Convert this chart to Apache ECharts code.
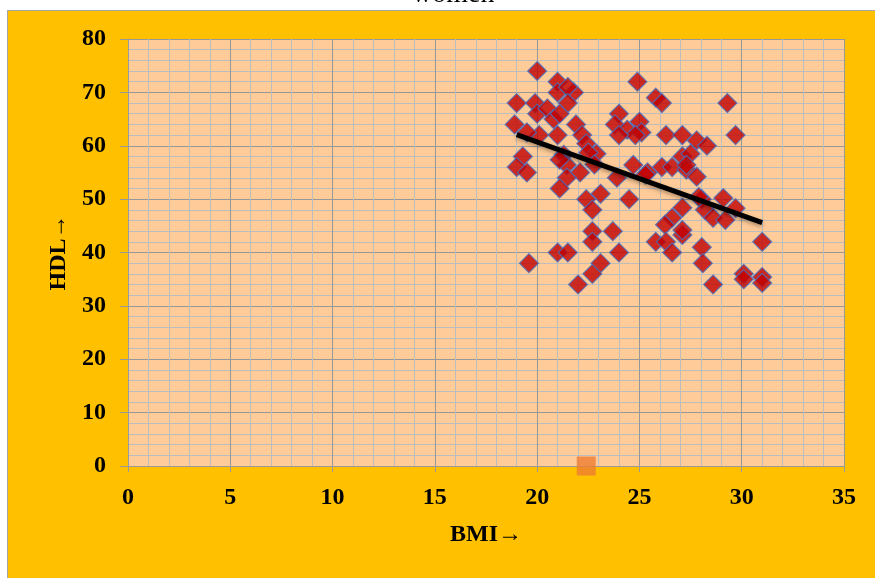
<!DOCTYPE html>
<html>
<head>
<meta charset="utf-8">
<script src="https://cdn.jsdelivr.net/npm/echarts@6/dist/echarts.min.js"></script>
<style>
  html, body { margin: 0; padding: 0; background: #ffffff; }
  #frame {
    position: absolute; left: 7px; top: 10px; width: 875px; height: 575px;
    background: #FFC000; border: 1px solid #A6A6A6; box-sizing: border-box;
  }
  #chart { position: absolute; left: 0; top: 0; width: 875px; height: 578px; }
</style>
</head>
<body>
<div id="frame"></div>
<div id="chart"></div>
<script>
// BMI / HDL readings for the women's group
const bmi = [
  20.0, 21.0, 24.9, 21.0, 21.8, 21.5, 19.0, 19.9, 21.5, 25.8,
  26.1, 29.3, 20.0, 20.5, 20.8, 21.1, 24.0, 18.9, 21.9, 23.8,
  24.4, 25.0, 25.1, 24.8, 24.0, 20.1, 21.0, 22.2, 19.5, 26.3,
  27.1, 27.8, 29.7, 28.3, 22.4, 22.9, 22.5, 19.3, 21.3, 27.1,
  27.5, 19.0, 19.5, 21.45, 22.1, 22.8, 24.7, 25.4, 26.1, 26.6,
  27.3, 27.8, 23.9, 21.45, 21.1, 22.4, 23.1, 22.7, 24.5, 22.7,
  22.7, 23.7, 24.0, 21.0, 21.5, 19.6, 23.1, 22.7, 22.0, 27.1,
  26.6, 26.25, 27.1, 27.1, 25.8, 26.3, 26.6, 28.05, 28.2, 28.6,
  29.1, 29.2, 29.7, 28.05, 28.1, 28.6, 31.0, 30.1, 30.1, 31.0,
  31.0, 25.3, 27.9, 27.3, 21.1
];
const hdl = [
  74, 72, 72, 70, 70, 71, 68, 68, 68, 69,
  68, 68, 66, 67, 65, 66, 66, 64, 64, 64,
  63, 64.5, 62.5, 62, 62, 62, 62, 62, 62.5, 62,
  62, 61, 62, 60, 60.4, 58.5, 58.7, 58, 58.3, 58,
  58.5, 56, 55, 56.4, 55, 56.5, 56.4, 55, 56, 56,
  55.5, 54.2, 54, 54, 52, 50, 51, 48, 50, 44,
  42, 44, 40, 40, 40, 38, 38, 36, 34, 48.4,
  46.5, 45.2, 43.3, 44.2, 42, 42, 40, 50, 48, 46.5,
  50.2, 46.1, 48.3, 41, 38, 34, 42, 36, 35, 35.4,
  34.3, 54.6, 50.4, 56.4, 57.4
];

// Linear trend line end points
const trendBmi = [19, 31];
const trendHdl = [62.1, 45.6];

// Second series: single point on the baseline
const extraBmi = [22.4];
const extraHdl = [0];

// Axis ranges and tick steps
const xTicks = { min: 0, max: 35, step: 5 };
const yTicks = { min: 0, max: 80, step: 10 };

const zip = (xs, ys) => xs.map((x, i) => [x, ys[i]]);

const serif = '"Liberation Serif", "Times New Roman", serif';
const labelStyle = { color: '#000', fontFamily: serif, fontWeight: 'bold', fontSize: 24 };

const chart = echarts.init(document.getElementById('chart'), null, { renderer: 'canvas' });
chart.setOption({
  animation: false,
  backgroundColor: 'transparent',
  title: {
    text: 'women',
    left: 407,
    top: -24,
    textStyle: { fontFamily: serif, fontWeight: 'normal', fontSize: 28, color: '#000' }
  },
  grid: {
    left: 128, right: 31, top: 39, bottom: 112,
    show: true, backgroundColor: '#FFCC99', borderWidth: 0
  },
  xAxis: {
    type: 'value',
    min: xTicks.min, max: xTicks.max, interval: xTicks.step,
    name: 'BMI\u2192',
    nameLocation: 'middle',
    nameGap: 57,
    nameTextStyle: labelStyle,
    axisLine: { show: true, onZero: false, lineStyle: { color: '#9A9A9A', width: 1 } },
    axisTick: { show: true, length: 6, lineStyle: { color: '#9A9A9A' } },
    axisLabel: Object.assign({ margin: 20 }, labelStyle),
    splitLine: { show: true, lineStyle: { color: '#989898', width: 1 } },
    minorTick: { show: false, splitNumber: 5 },
    minorSplitLine: { show: true, lineStyle: { color: '#BDBDBD', width: 1 } }
  },
  yAxis: {
    type: 'value',
    min: yTicks.min, max: yTicks.max, interval: yTicks.step,
    name: 'HDL\u2192',
    nameLocation: 'middle',
    nameGap: 56,
    nameTextStyle: labelStyle,
    axisLine: { show: true, onZero: false, lineStyle: { color: '#9A9A9A', width: 1 } },
    axisTick: { show: true, length: 8, lineStyle: { color: '#9A9A9A' } },
    axisLabel: Object.assign({ margin: 22 }, labelStyle),
    splitLine: { show: true, lineStyle: { color: '#989898', width: 1 } },
    minorTick: { show: false, splitNumber: 5 },
    minorSplitLine: { show: true, lineStyle: { color: '#BDBDBD', width: 1 } }
  },
  series: [
    {
      name: 'HDL',
      type: 'scatter',
      data: zip(bmi, hdl),
      symbol: 'diamond',
      symbolSize: 19,
      itemStyle: { color: '#C00000', borderColor: '#4472C4', borderWidth: 1.2 },
      z: 3
    },
    {
      name: 'Trend',
      type: 'line',
      data: zip(trendBmi, trendHdl),
      symbol: 'none',
      lineStyle: {
        color: '#000', width: 5,
        shadowBlur: 4, shadowColor: 'rgba(0,0,0,0.35)', shadowOffsetY: 2
      },
      z: 4
    },
    {
      name: 'Point',
      type: 'scatter',
      data: zip(extraBmi, extraHdl),
      symbol: 'rect',
      symbolSize: 19,
      itemStyle: { color: '#ED7D31' },
      z: 5
    }
  ]
});
</script>
</body>
</html>
